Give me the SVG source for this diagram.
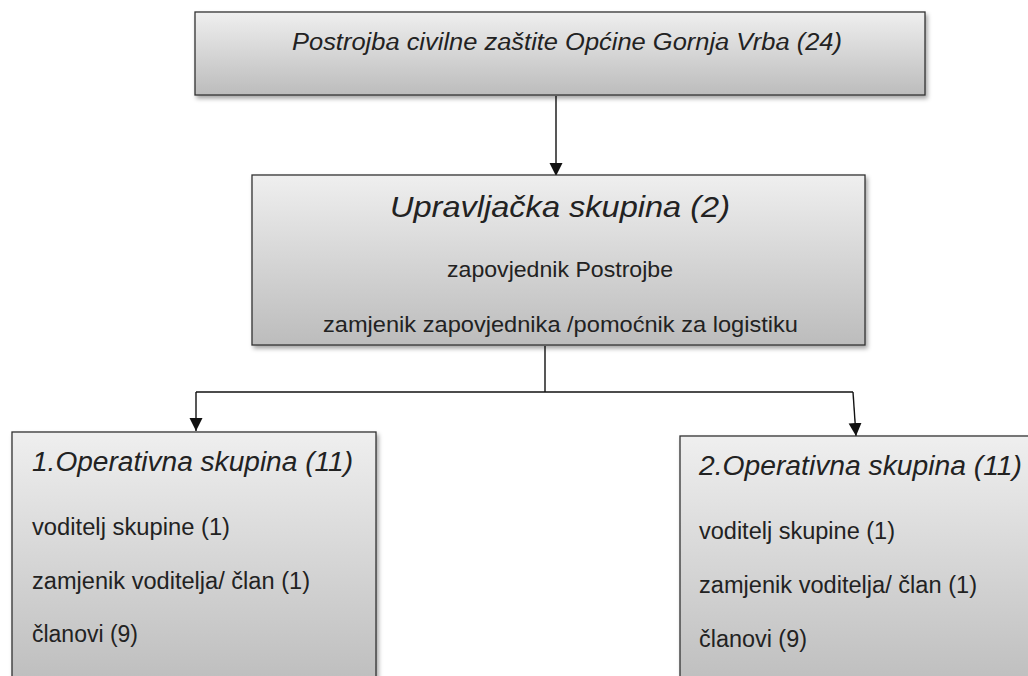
<svg xmlns="http://www.w3.org/2000/svg" width="1028" height="676" viewBox="0 0 1028 676">
<style>
.box{stroke:#333;stroke-width:1.3;fill:url(#g);filter:url(#sh)}
.t{font-family:"Liberation Sans",Arial,sans-serif;fill:#222}
.it{font-style:italic}
.ln{stroke:#111;stroke-width:1.4;fill:none}
</style>
<defs>
<linearGradient id="g" x1="0" y1="0" x2="0" y2="1">
<stop offset="0" stop-color="#efefef"/>
<stop offset="1" stop-color="#bcbcbc"/>
</linearGradient>
<filter id="sh" x="-5%" y="-5%" width="115%" height="120%">
<feDropShadow dx="2" dy="3" stdDeviation="2" flood-color="#000" flood-opacity="0.35"/>
</filter>
<marker id="ah" markerWidth="14" markerHeight="14" refX="13" refY="6.5" orient="auto" markerUnits="userSpaceOnUse">
<path d="M0,0 L13,6.5 L0,13 Z" fill="#111"/>
</marker>
</defs>
<rect width="1028" height="676" fill="#fff"/>
<g id="connectors">
<path class="ln" d="M556,96 V176" marker-end="url(#ah)"/>
<path class="ln" d="M545,346 V392"/>
<path class="ln" d="M196,392 H853"/>
<path class="ln" d="M196,392 V431" marker-end="url(#ah)"/>
<path class="ln" d="M853,392 L856,436" marker-end="url(#ah)"/>
</g>
<g id="top">
<rect class="box" x="195" y="12" width="730" height="83"/>
<text class="t it" x="292" y="50" font-size="23" textLength="550" lengthAdjust="spacingAndGlyphs">Postrojba civilne zaštite Općine Gornja Vrba (24)</text>
</g>
<g id="upravljacka">
<rect class="box" x="252" y="175" width="613" height="170"/>
<text class="t it" x="390" y="217" font-size="29" textLength="340" lengthAdjust="spacingAndGlyphs">Upravljačka  skupina (2)</text>
<text class="t" x="447" y="277" font-size="22" textLength="226" lengthAdjust="spacingAndGlyphs">zapovjednik Postrojbe</text>
<text class="t" x="323" y="332" font-size="22" textLength="475" lengthAdjust="spacingAndGlyphs">zamjenik zapovjednika /pomoćnik za logistiku</text>
</g>
<g id="op1">
<rect class="box" x="12" y="432" width="364" height="260"/>
<text class="t it" x="32" y="471" font-size="27" textLength="321" lengthAdjust="spacingAndGlyphs">1.Operativna skupina (11)</text>
<text class="t" x="32" y="535" font-size="23" textLength="198" lengthAdjust="spacingAndGlyphs">voditelj skupine (1)</text>
<text class="t" x="32" y="589" font-size="23" textLength="278" lengthAdjust="spacingAndGlyphs">zamjenik voditelja/ član (1)</text>
<text class="t" x="32" y="642" font-size="23" textLength="106" lengthAdjust="spacingAndGlyphs">članovi (9)</text>
</g>
<g id="op2">
<rect class="box" x="680" y="436" width="370" height="260"/>
<text class="t it" x="699" y="475" font-size="27" textLength="323" lengthAdjust="spacingAndGlyphs">2.Operativna skupina (11)</text>
<text class="t" x="699" y="539" font-size="23" textLength="196" lengthAdjust="spacingAndGlyphs">voditelj skupine (1)</text>
<text class="t" x="699" y="593" font-size="23" textLength="278" lengthAdjust="spacingAndGlyphs">zamjenik voditelja/ član (1)</text>
<text class="t" x="699" y="647" font-size="23" textLength="108" lengthAdjust="spacingAndGlyphs">članovi (9)</text>
</g>
</svg>
